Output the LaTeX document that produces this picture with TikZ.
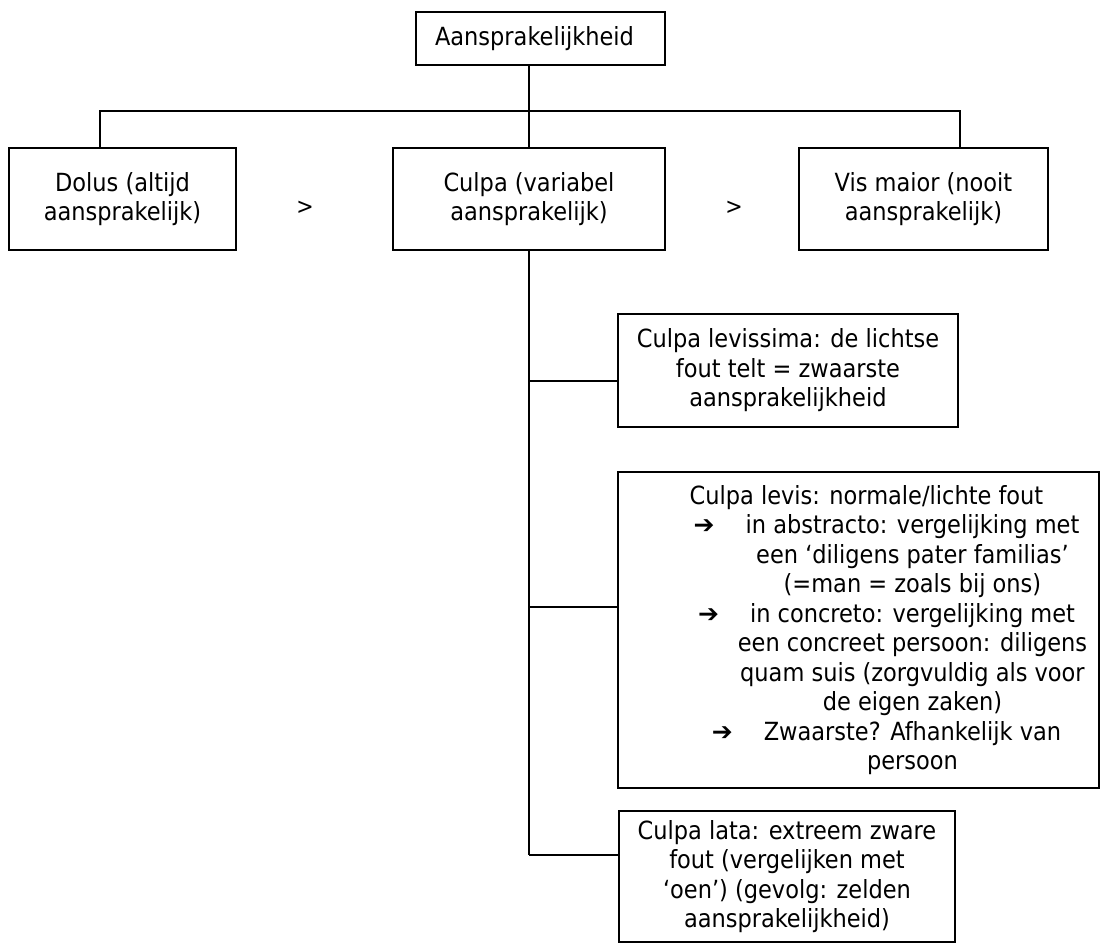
\documentclass[tikz,border=0pt]{standalone}
\usepackage{fontspec}
\setmainfont{DejaVu Sans Condensed}
\newfontfamily\arrowfont{DejaVu Sans Bold}
% shift a centred line: the centre moves by half of #1
\newcommand\sh[2]{\mbox{\kern#1\relax#2}}
% arrow bullet hanging to the left of a list line
\newcommand\arw{\llap{{\arrowfont ➔}\hspace{31pt}}}
\begin{document}
\begin{tikzpicture}[x=1pt,y=-1pt,
  box/.style={draw, line width=2pt, inner sep=0pt, align=center,
    font=\fontsize{25}{29.5}\selectfont},
  sym/.style={inner sep=0pt, font=\fontsize{23}{29.5}\selectfont},
  link/.style={line width=2pt}]
\useasboundingbox (0,0) rectangle (1102,944);

% top of the tree
\node[box, minimum width=249pt, minimum height=53pt] (top) at (540.5,38.5)
  {\sh{-12pt}{Aansprakelijkheid}};

% three kinds of liability
\node[box, minimum width=227pt, minimum height=102pt] (dolus) at (122.5,199)
  {Dolus (altijd\\aansprakelijk)};
\node[box, minimum width=272pt, minimum height=102pt] (culpa) at (529,199)
  {Culpa (variabel\\aansprakelijk)};
\node[box, minimum width=249pt, minimum height=102pt] (vis) at (923.5,199)
  {Vis maior (nooit\\aansprakelijk)};
\node[sym] (gt1) at (305,208) {>};
\node[sym] (gt2) at (734,208) {>};

% degrees of culpa
\node[box, minimum width=340pt, minimum height=113pt] (levissima) at (788,370.5)
  {Culpa levissima: de lichtse\\fout telt = zwaarste\\aansprakelijkheid};
\node[box, minimum width=481pt, minimum height=316pt] (levis) at (858.5,630)
  {\sh{16pt}{Culpa levis: normale/lichte fout}\\
   \sh{108pt}{\arw in abstracto: vergelijking met}\\
   \sh{108pt}{een ‘diligens pater familias’}\\
   \sh{108pt}{(=man = zoals bij ons)}\\
   \sh{108pt}{\arw in concreto: vergelijking met}\\
   \sh{108pt}{een concreet persoon: diligens}\\
   \sh{108pt}{quam suis (zorgvuldig als voor}\\
   \sh{108pt}{de eigen zaken)}\\
   \sh{108pt}{\arw Zwaarste? Afhankelijk van}\\
   \sh{108pt}{persoon}};
\node[box, minimum width=336pt, minimum height=131pt] (lata) at (787,876.5)
  {Culpa lata: extreem zware\\fout (vergelijken met\\‘oen’) (gevolg: zelden\\aansprakelijkheid)};

% connectors
\coordinate (hub) at (529,111);
\coordinate (jl) at (100,111);
\coordinate (jr) at (960,111);
\coordinate (b1) at (529,381);
\coordinate (b2) at (529,607);
\coordinate (b3) at (529,855);
\draw[link] (top.south -| hub) -- (culpa.north);
\draw[link] (dolus.north -| jl) -- (jl) -- (jr) -- (vis.north -| jr);
\draw[link] (culpa.south) -- (b3);
\draw[link] (b1) -- (b1 -| levissima.west);
\draw[link] (b2) -- (b2 -| levis.west);
\draw[link] (b3) -- (b3 -| lata.west);
\end{tikzpicture}
\end{document}
